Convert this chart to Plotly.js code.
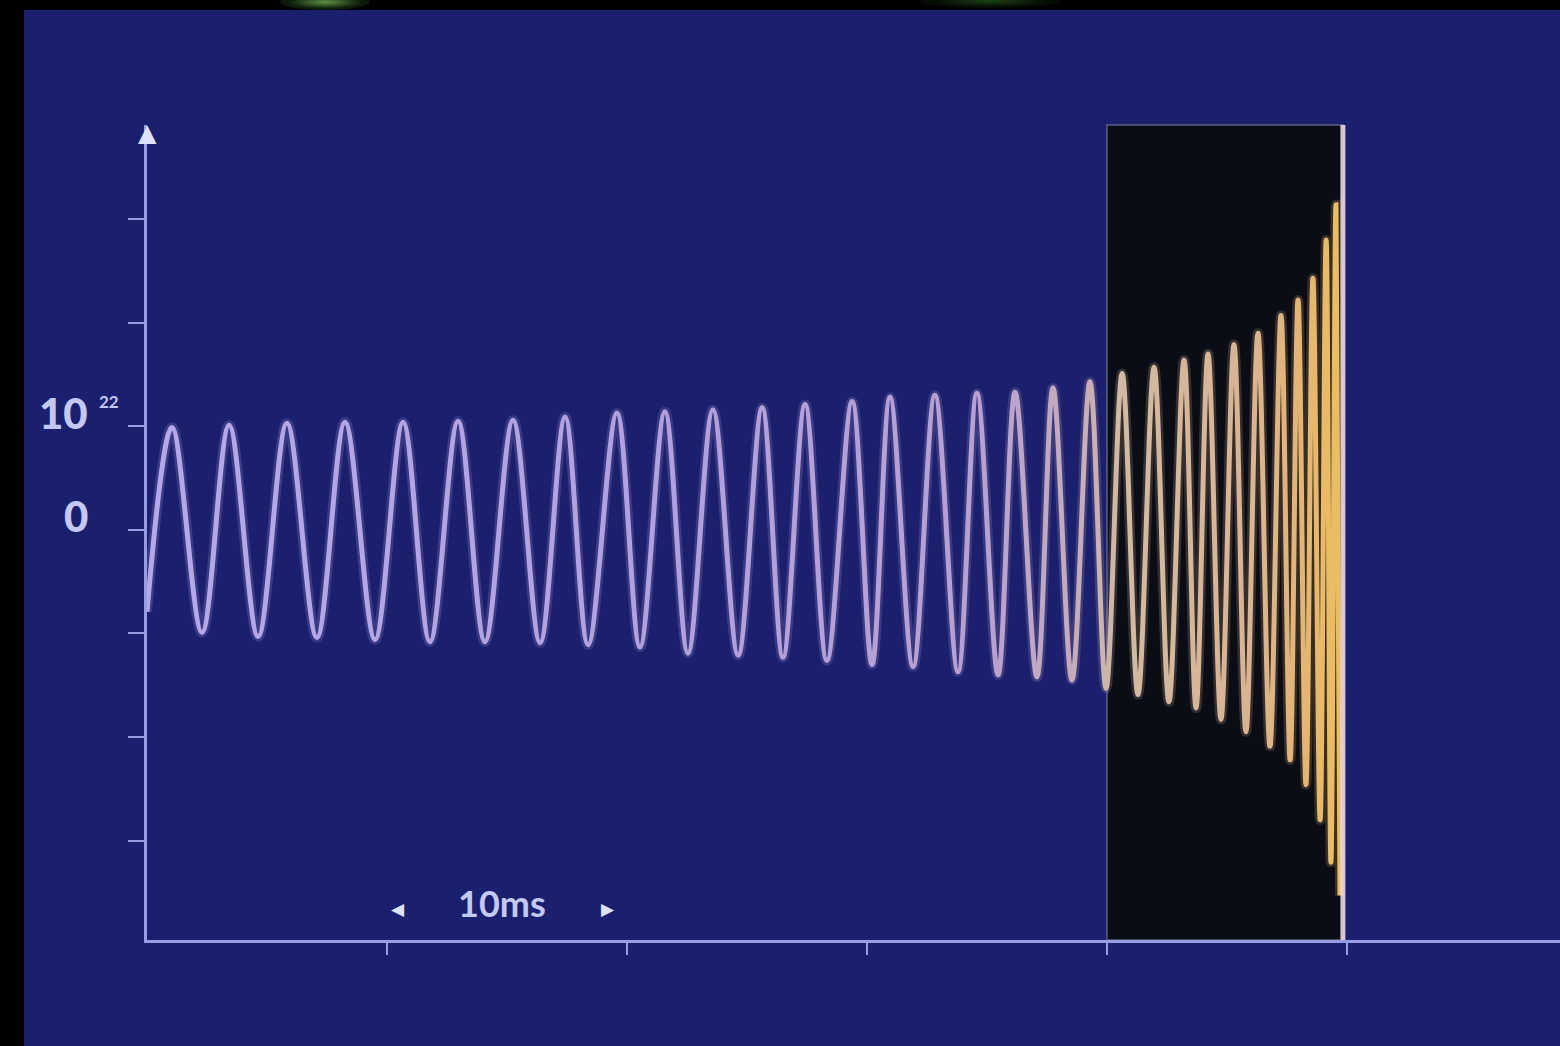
<!DOCTYPE html>
<html>
<head>
<meta charset="utf-8">
<script src="https://cdn.plot.ly/plotly-3.0.1.min.js"></script>
<style>
  html, body { margin: 0; padding: 0; background: #000; width: 1560px; height: 1046px; overflow: hidden; position: relative; }
  #chart { position: absolute; left: 24px; top: 10px; width: 1536px; height: 1036px; }
  .glowA { position: absolute; left: 280px; top: -6px; width: 90px; height: 16px; border-radius: 50%; background: radial-gradient(ellipse at center, rgba(110,170,80,0.85) 0%, rgba(40,80,30,0.4) 55%, rgba(0,0,0,0) 100%); }
  .glowB { position: absolute; left: 920px; top: -6px; width: 140px; height: 14px; border-radius: 50%; background: radial-gradient(ellipse at center, rgba(40,90,30,0.7) 0%, rgba(20,50,15,0.3) 55%, rgba(0,0,0,0) 100%); }
</style>
</head>
<body>
<div class="glowA"></div>
<div class="glowB"></div>
<div id="chart"></div>
<script>
// ---- data ----
// time in ms from the start of the trace, strain in label units (tick "10^22" = 1)
const timeMs = [0.00, 1.04, 2.29, 3.42, 4.63, 5.83, 7.08, 8.25, 9.50, 10.67, 11.79, 12.96, 14.08, 15.25, 16.38,
  17.42, 18.38, 19.58, 20.54, 21.58, 22.54, 23.58, 24.63, 25.63, 26.50, 27.42, 28.33, 29.38, 30.21, 30.96,
  31.92, 32.83, 33.79, 34.58, 35.46, 36.17, 37.08, 37.75, 38.54, 39.29, 39.96, 40.63, 41.29, 41.96, 42.58,
  43.21, 43.71, 44.21, 44.75, 45.29, 45.79, 46.29, 46.79, 47.25, 47.63, 47.96, 48.29, 48.58, 48.88, 49.13,
  49.33, 49.54, 49.71];
const strain = [-0.79, 0.99, -0.99, 1.01, -1.03, 1.03, -1.04, 1.04, -1.06, 1.04, -1.08, 1.05, -1.08, 1.06, -1.09,
  1.09, -1.11, 1.13, -1.13, 1.14, -1.19, 1.16, -1.21, 1.18, -1.23, 1.21, -1.26, 1.24, -1.30, 1.28,
  -1.32, 1.30, -1.37, 1.32, -1.40, 1.33, -1.42, 1.37, -1.45, 1.43, -1.53, 1.51, -1.59, 1.57, -1.66,
  1.64, -1.72, 1.70, -1.83, 1.79, -1.95, 1.90, -2.09, 2.07, -2.22, 2.22, -2.46, 2.43, -2.80, 2.80,
  -3.21, 3.14, -3.53];

const yTickVals = [-3, -2, -1, 0, 1, 2, 3];
const xTickVals = [10, 20, 30, 40, 50];
const labelZero = '0';
const labelTen = '10';
const labelExp = '22';
const spanLabel = '10ms';
const spanStart = 10;   // ms
const spanEnd = 20;     // ms
const boxStart = 40;    // ms, dark panel
const boxEnd = 49.83;   // ms

// ---- styling ----
const axisColor = '#979de2';
const textColor = '#c4c8f4';
const bg = '#1a206e';

const waveTrace = {
  x: timeMs, y: strain, type: 'scatter', mode: 'lines',
  line: { shape: 'spline', smoothing: 1, width: 5, color: '#b8a4dc', simplify: false },
  hoverinfo: 'skip', showlegend: false
};
const glowTrace = {
  x: timeMs, y: strain, type: 'scatter', mode: 'lines', opacity: 0.2,
  line: { shape: 'spline', smoothing: 1, width: 10, color: '#b8a4dc', simplify: false },
  hoverinfo: 'skip', showlegend: false
};

const layout = {
  width: 1536, height: 1036,
  margin: { l: 123, r: 0, t: 115, b: 106 },
  paper_bgcolor: bg, plot_bgcolor: bg,
  showlegend: false,
  xaxis: {
    range: [0, 58.875], showgrid: false, zeroline: false,
    showline: true, linecolor: axisColor, linewidth: 3,
    tickmode: 'array', tickvals: xTickVals, ticktext: xTickVals.map(() => ''),
    ticks: 'outside', ticklen: 12, tickwidth: 2, tickcolor: axisColor,
    fixedrange: true
  },
  yaxis: {
    range: [-3.96, 3.91], showgrid: false, zeroline: false,
    showline: true, linecolor: axisColor, linewidth: 3,
    tickmode: 'array', tickvals: yTickVals, ticktext: yTickVals.map(() => ''),
    ticks: 'outside', ticklen: 16, tickwidth: 2, tickcolor: axisColor,
    fixedrange: true
  },
  shapes: [
    { type: 'rect', layer: 'below', xref: 'x', yref: 'paper', x0: boxStart, x1: boxEnd, y0: 0, y1: 1,
      fillcolor: '#0b0d16', line: { color: 'rgba(120,122,160,0.55)', width: 2 } },
    { type: 'line', layer: 'above', xref: 'x', yref: 'paper', x0: boxEnd, x1: boxEnd, y0: 0, y1: 1,
      line: { color: 'rgba(236,214,222,0.9)', width: 5 } }
  ],
  annotations: [
    { xref: 'paper', yref: 'y', x: -0.0403, y: 1.13, xanchor: 'right', yanchor: 'middle', showarrow: false,
      text: labelTen, font: { family: 'Lato', size: 42, weight: 900, color: textColor } },
    { xref: 'paper', yref: 'y', x: -0.0354, y: 1.24, xanchor: 'left', yanchor: 'middle', showarrow: false,
      text: labelExp, font: { family: 'Lato', size: 17, weight: 'bold', color: textColor } },
    { xref: 'paper', yref: 'y', x: -0.0403, y: 0.13, xanchor: 'right', yanchor: 'middle', showarrow: false,
      text: labelZero, font: { family: 'Lato', size: 42, weight: 900, color: textColor } },
    { xref: 'x', yref: 'y', x: (spanStart + spanEnd) / 2 - 0.2, y: -3.6, xanchor: 'center', yanchor: 'middle', showarrow: false,
      text: spanLabel, font: { family: 'Lato', size: 36, weight: 'bold', color: textColor } },
    { xref: 'x', yref: 'y', x: spanStart + 0.45, y: -3.66, xanchor: 'center', yanchor: 'middle', showarrow: false,
      text: '◀', font: { family: 'DejaVu Sans', size: 17, color: '#dfe2ff' } },
    { xref: 'x', yref: 'y', x: spanEnd - 0.8, y: -3.66, xanchor: 'center', yanchor: 'middle', showarrow: false,
      text: '▶', font: { family: 'DejaVu Sans', size: 17, color: '#dfe2ff' } },
    { xref: 'x', yref: 'paper', x: 0, y: 1, xanchor: 'center', yanchor: 'middle', yshift: -8, showarrow: false,
      text: '▲', font: { family: 'DejaVu Sans', size: 24, color: '#dfe2ff' } }
  ]
};

Plotly.newPlot('chart', [glowTrace, waveTrace], layout, { staticPlot: true, displayModeBar: false }).then(() => {
  // colour the waveform from lavender to gold along its length
  const svg = document.querySelector('#chart .main-svg');
  let defs = svg.querySelector('defs');
  if (!defs) { defs = document.createElementNS('http://www.w3.org/2000/svg', 'defs'); svg.insertBefore(defs, svg.firstChild); }
  const ns = 'http://www.w3.org/2000/svg';
  const grad = document.createElementNS(ns, 'linearGradient');
  grad.setAttribute('id', 'waveGrad');
  grad.setAttribute('x1', '0'); grad.setAttribute('x2', '1');
  grad.setAttribute('y1', '0'); grad.setAttribute('y2', '0');
  const stops = [[0, '#b6a8e8'], [0.45, '#b2a0dc'], [0.70, '#b8a0d0'], [0.78, '#c6acb8'],
                 [0.82, '#d2baa0'], [0.92, '#dab492'], [0.965, '#e4b474'], [1, '#ecbe5e']];
  stops.forEach(([o, c]) => {
    const s = document.createElementNS(ns, 'stop');
    s.setAttribute('offset', o); s.setAttribute('stop-color', c);
    grad.appendChild(s);
  });
  defs.appendChild(grad);
  document.querySelectorAll('#chart .scatterlayer .trace path.js-line').forEach(p => {
    p.style.stroke = 'url(#waveGrad)';
  });
});
</script>
</body>
</html>
